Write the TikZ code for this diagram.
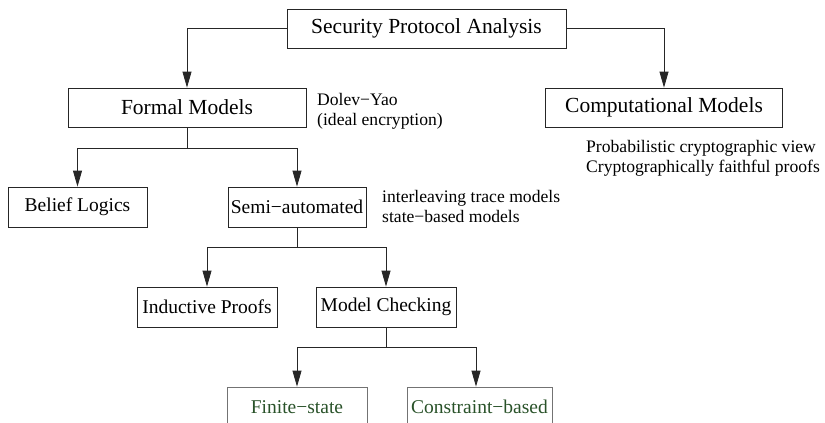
\documentclass[tikz,border=0pt]{standalone}
\usepackage{fontspec}
\setmainfont{Liberation Serif}
\usetikzlibrary{arrows.meta}
\definecolor{lineclr}{gray}{0.15}
\definecolor{greentxt}{rgb}{0.16,0.32,0.16}
\begin{document}
\begin{tikzpicture}[x=1pt,y=-1pt,
  box/.style={draw=lineclr, line width=0.8pt, rectangle, inner sep=0pt,
    font=\fontsize{19.5}{22}\selectfont},
  bigbox/.style={box, font=\fontsize{21.5}{24}\selectfont},
  gbox/.style={box, draw=black!55, text=greentxt},
  note/.style={align=left, anchor=base west, inner sep=0pt,
    font=\fontsize{17.6}{20}\selectfont},
  link/.style={line width=0.8pt, draw=lineclr},
  conn/.style={link, -{Triangle[length=16pt,width=9pt]}}]
\useasboundingbox (0,0) rectangle (825,423);
\clip (0,0) rectangle (825,423);

\node[bigbox, minimum width=279pt, minimum height=39pt] (top) at (426.5,28.5) {Security Protocol Analysis};
\node[bigbox, minimum width=238pt, minimum height=39pt] (formal) at (187,107.5) {Formal Models};
\node[bigbox, minimum width=237pt, minimum height=39pt] (comp) at (664,107.5) {Computational Models};
\node[box, minimum width=139pt, minimum height=40pt] (belief) at (77.5,207) {Belief Logics};
\node[box, minimum width=138pt, minimum height=40pt] (semi) at (297,207) {Semi−automated};
\node[box, minimum width=140pt, minimum height=40pt] (induct) at (207,307) {Inductive Proofs};
\node[box, minimum width=140pt, minimum height=40pt] (model) at (386,307) {Model Checking};
\node[gbox, minimum width=140pt, minimum height=40pt] (finite) at (297,407) {Finite−state};
\node[gbox, minimum width=145pt, minimum height=40pt] (constr) at (479.5,407) {Constraint−based};

\node[note] (dy) at (317,125) {Dolev−Yao\\(ideal encryption)};
\node[note] (il) at (382,222) {interleaving trace models\\state−based models};
\node[note] (pr) at (586,172) {Probabilistic cryptographic view\\Cryptographically faithful proofs};

\draw[conn] (top.west) -| (formal.north);
\draw[conn] (top.east) -| (comp.north);

\coordinate (j1) at (187,148);
\draw[link] (formal.south) -- (j1);
\draw[conn] (j1) -| (belief.north);
\draw[conn] (j1) -| (semi.north);

\coordinate (j2) at (297,247);
\draw[link] (semi.south) -- (j2);
\draw[conn] (j2) -| (induct.north);
\draw[conn] (j2) -| (model.north);

\coordinate (j3) at (386,347);
\draw[link] (model.south) -- (j3);
\draw[conn] (j3) -| (finite.north);
\draw[conn] (j3) -| ([xshift=-3.5pt]constr.north);
\end{tikzpicture}
\end{document}
